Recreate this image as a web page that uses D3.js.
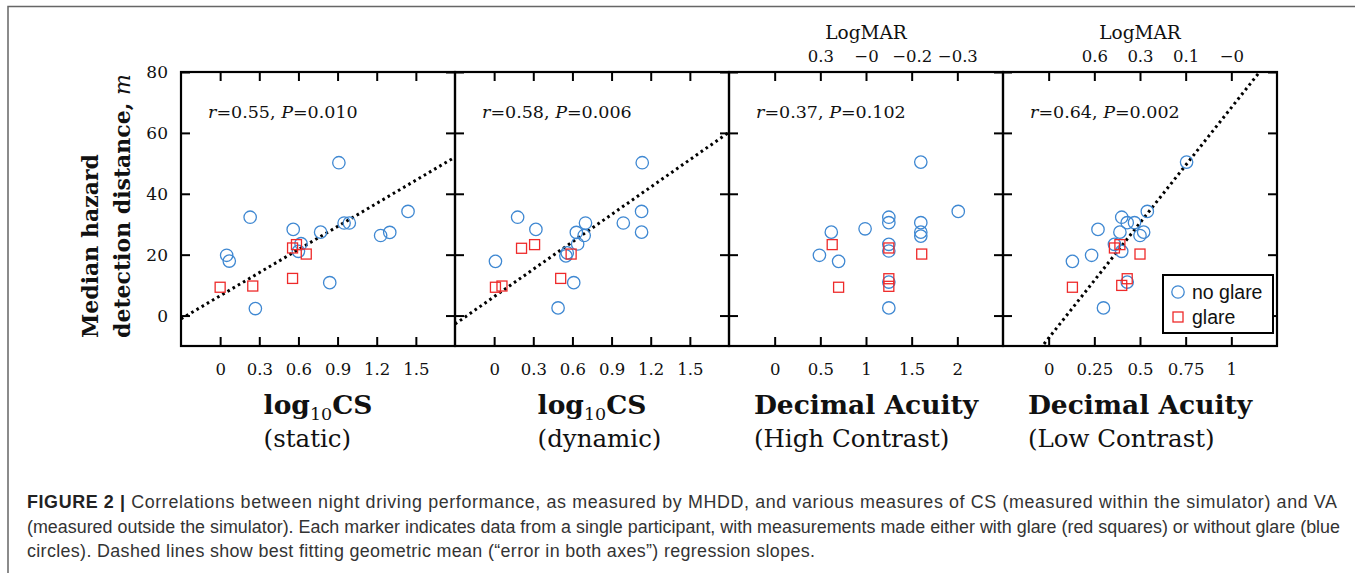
<!DOCTYPE html>
<html>
<head>
<meta charset="utf-8">
<script src="https://cdn.jsdelivr.net/npm/d3@7"></script>
<style>
  body { margin: 0; background: #fff; }
  svg text { font-family: "DejaVu Serif", serif; fill: #111; }
  svg text.cap { font-family: "Liberation Sans", Arial, sans-serif; fill: #333; }
  svg text.leg { font-family: "Liberation Sans", Arial, sans-serif; fill: #111; }
</style>
</head>
<body>
<svg width="1355" height="573"></svg>
<script>
// ---- data: [x, median hazard detection distance (m)] ----
const staticNoGlare = [[0.91, 50.2], [0.23, 32.3], [0.56, 28.3], [0.77, 27.4], [0.95, 30.4], [0.99, 30.4],
  [1.44, 34.2], [1.23, 26.3], [1.30, 27.3], [0.05, 19.8], [0.07, 17.9], [0.62, 23.6], [0.60, 21.1],
  [0.84, 10.8], [0.27, 2.3]];
const staticGlare = [[0.0, 9.3], [0.25, 9.7], [0.555, 22.2], [0.585, 23.3], [0.66, 20.2], [0.555, 12.2]];

const dynamicNoGlare = [[1.135, 50.2], [0.18, 32.3], [0.32, 28.3], [0.70, 30.4], [0.63, 27.3], [0.69, 26.3],
  [0.99, 30.4], [1.13, 34.2], [1.13, 27.4], [0.64, 23.5], [0.56, 20.6], [0.55, 19.6], [0.01, 17.8],
  [0.61, 10.8], [0.49, 2.5]];
const dynamicGlare = [[0.21, 22.1], [0.31, 23.3], [0.59, 20.2], [0.51, 12.2], [0.01, 9.3], [0.06, 9.7]];

const highNoGlare = [[1.6, 50.4], [2.01, 34.2], [1.25, 32.3], [1.25, 30.5], [0.99, 28.5], [0.62, 27.4],
  [1.6, 30.5], [1.6, 27.4], [1.6, 26.1], [0.49, 19.8], [0.70, 17.8], [1.25, 23.4], [1.25, 21.2],
  [1.25, 11.0], [1.25, 2.5]];
const highGlare = [[0.63, 23.3], [1.25, 22.2], [1.61, 20.2], [0.70, 9.3], [1.25, 12.1], [1.25, 9.6]];

const lowNoGlare = [[0.755, 50.4], [0.54, 34.2], [0.40, 32.3], [0.43, 30.5], [0.47, 30.5], [0.27, 28.3],
  [0.39, 27.4], [0.52, 27.4], [0.50, 26.3], [0.235, 19.8], [0.13, 17.8], [0.36, 23.4], [0.40, 21.1],
  [0.43, 11.0], [0.30, 2.5]];
const lowGlare = [[0.36, 22.2], [0.39, 23.3], [0.50, 20.2], [0.13, 9.3], [0.40, 9.9], [0.43, 12.1]];

// regression fits [intercept, slope]; null = no line drawn
const fits = [[6.5, 25.3], [6.2, 30.0], null, [-7.4, 75.7]];
const rValues = ["0.55", "0.58", "0.37", "0.64"];
const pValues = ["0.010", "0.006", "0.102", "0.002"];

// axes
const yTicks = [0, 20, 40, 60, 80];
const csTicks = [0, 0.3, 0.6, 0.9, 1.2, 1.5];
const highTicks = [0, 0.5, 1, 1.5, 2];
const lowTicks = [0, 0.25, 0.5, 0.75, 1];
const highLogMAR = ["", "0.3", "\u22120", "\u22120.2", "\u22120.3"];
const lowLogMAR = ["", "0.6", "0.3", "0.1", "\u22120"];
const titles = ["log10CS", "log10CS", "Decimal Acuity", "Decimal Acuity"];
const subtitles = ["(static)", "(dynamic)", "(High Contrast)", "(Low Contrast)"];

const captionLines = [
  "Correlations between night driving performance, as measured by MHDD, and various measures of CS (measured within the simulator) and VA",
  "(measured outside the simulator). Each marker indicates data from a single participant, with measurements made either with glare (red squares) or without glare (blue",
  "circles). Dashed lines show best fitting geometric mean (\u201cerror in both axes\u201d) regression slopes."
];

// ---- layout ----
const svg = d3.select("svg");
const margin = { left: 181, top: 72 };
const pw = 274, ph = 274;
const blue = "#3f88d2", red = "#ee2a2a";

svg.append("rect").attr("width", 1355).attr("height", 573).attr("fill", "#fff");
svg.append("path").attr("d", "M8,573V6.5H1355").attr("fill", "none")
  .attr("stroke", "#666").attr("stroke-width", 1.5);

const y = d3.scaleLinear().domain([-10, 80]).range([ph, 0]);

const panels = [
  { noGlare: staticNoGlare, glare: staticGlare, domain: [-0.3, 1.8], ticks: csTicks, top: null, topAt: 0 },
  { noGlare: dynamicNoGlare, glare: dynamicGlare, domain: [-0.3, 1.8], ticks: csTicks, top: null, topAt: 0 },
  { noGlare: highNoGlare, glare: highGlare, domain: [-0.5, 2.5], ticks: highTicks, top: highLogMAR, topAt: 1 },
  { noGlare: lowNoGlare, glare: lowGlare, domain: [-0.25, 1.25], ticks: lowTicks, top: lowLogMAR, topAt: 0.5 }
];

const styleAxis = (sel, size) => {
  sel.select(".domain").remove();
  sel.selectAll(".tick line").attr("stroke", "#000").attr("stroke-width", 2);
  sel.selectAll(".tick text").attr("font-family", "DejaVu Serif").attr("font-size", size).attr("fill", "#111");
};

panels.forEach((p, i) => {
  const g = svg.append("g").attr("transform", `translate(${margin.left + i * pw}, ${margin.top})`);
  const x = d3.scaleLinear().domain(p.domain).range([0, pw]);

  g.append("clipPath").attr("id", "clip" + i)
    .append("rect").attr("width", pw).attr("height", ph);

  // ticks on all four sides, pointing inward
  g.append("g").attr("transform", `translate(0, ${ph})`)
    .call(d3.axisBottom(x).tickValues(p.ticks).tickFormat(d3.format("")).tickSizeInner(-9).tickSizeOuter(0).tickPadding(17))
    .call(s => styleAxis(s, 16.5));
  g.append("g")
    .call(d3.axisTop(x).tickValues(p.ticks).tickFormat((d, k) => p.top ? p.top[k] : "").tickSizeInner(-9).tickSizeOuter(0).tickPadding(10))
    .call(s => styleAxis(s, 16.5));
  g.append("g")
    .call(d3.axisLeft(y).tickValues(yTicks).tickFormat(d => i === 0 ? d : "").tickSizeInner(-9).tickSizeOuter(0).tickPadding(13))
    .call(s => styleAxis(s, 17));
  g.append("g").attr("transform", `translate(${pw}, 0)`)
    .call(d3.axisRight(y).tickValues(yTicks).tickFormat("").tickSizeInner(-9).tickSizeOuter(0))
    .call(s => styleAxis(s, 16));

  if (p.top) {
    g.append("text").attr("x", x(p.topAt)).attr("y", -33)
      .attr("text-anchor", "middle").attr("font-size", 18.5).text("LogMAR");
  }

  // regression line
  if (fits[i]) {
    const [b, m] = fits[i];
    g.append("line").attr("clip-path", `url(#clip${i})`)
      .attr("x1", x(p.domain[0])).attr("y1", y(b + m * p.domain[0]))
      .attr("x2", x(p.domain[1])).attr("y2", y(b + m * p.domain[1]))
      .attr("stroke", "#000").attr("stroke-width", 3).attr("stroke-dasharray", "2.6,3.4");
  }

  g.selectAll("circle.ng").data(p.noGlare).enter().append("circle")
    .attr("class", "ng")
    .attr("cx", d => x(d[0])).attr("cy", d => y(d[1])).attr("r", 6.2)
    .attr("fill", "none").attr("stroke", blue).attr("stroke-width", 1.3);

  const s = 10;
  g.selectAll("rect.gl").data(p.glare).enter().append("rect")
    .attr("class", "gl")
    .attr("x", d => x(d[0]) - s / 2).attr("y", d => y(d[1]) - s / 2)
    .attr("width", s).attr("height", s)
    .attr("fill", "none").attr("stroke", red).attr("stroke-width", 1.3);

  // frame
  g.append("rect").attr("width", pw).attr("height", ph)
    .attr("fill", "none").attr("stroke", "#000").attr("stroke-width", 2.2);

  // r / P annotation
  const ann = g.append("text").attr("x", 27).attr("y", 46).attr("font-size", 17.5);
  ann.append("tspan").attr("font-style", "italic").text("r");
  ann.append("tspan").text("=" + rValues[i] + ", ");
  ann.append("tspan").attr("font-style", "italic").text("P");
  ann.append("tspan").text("=" + pValues[i]);

  // x title (two left-aligned lines, block centred under the panel)
  const t1 = g.append("text").attr("y", 342).attr("font-size", 26.5).attr("font-weight", "bold");
  if (titles[i] === "log10CS") {
    t1.append("tspan").text("log");
    t1.append("tspan").attr("font-size", 17.5).attr("font-weight", "normal").attr("dy", 6).text("10");
    t1.append("tspan").attr("dy", -6).text("CS");
  } else {
    t1.text(titles[i]);
  }
  const w1 = t1.node().getComputedTextLength();
  const x0 = pw / 2 - w1 / 2;
  t1.attr("x", x0);
  g.append("text").attr("x", x0).attr("y", 375).attr("font-size", 24.5).text(subtitles[i]);

  // legend in last panel
  if (i === 3) {
    const lg = g.append("g").attr("transform", `translate(${pw - 114}, ${ph - 71})`);
    lg.append("rect").attr("width", 110).attr("height", 58)
      .attr("fill", "#fff").attr("stroke", "#000").attr("stroke-width", 2);
    lg.append("circle").attr("cx", 15).attr("cy", 17).attr("r", 6.2)
      .attr("fill", "none").attr("stroke", blue).attr("stroke-width", 1.3);
    lg.append("rect").attr("x", 10).attr("y", 37).attr("width", s).attr("height", s)
      .attr("fill", "none").attr("stroke", red).attr("stroke-width", 1.3);
    lg.append("text").attr("class", "leg").attr("x", 29).attr("y", 24).attr("font-size", 19.5).text("no glare");
    lg.append("text").attr("class", "leg").attr("x", 29).attr("y", 49).attr("font-size", 19.5).text("glare");
  }
});

// y axis title
const yl = svg.append("g").attr("transform", "translate(0, 338) rotate(-90)");
yl.append("text").attr("x", 0).attr("y", 98).attr("font-size", 22).attr("font-weight", "bold").text("Median hazard");
const yl2 = yl.append("text").attr("x", 0).attr("y", 130).attr("font-size", 22).attr("font-weight", "bold");
yl2.append("tspan").text("detection distance, ");
yl2.append("tspan").attr("font-style", "italic").attr("font-weight", "normal").text("m");

// caption: font size taken from the widest plain line, each line set to its width in the figure
const capY = [508, 533, 557];
const capWidths = [1310, 1313, 788];
const capText = captionLines.map((line, k) => {
  const t = svg.append("text").attr("class", "cap").attr("x", 27).attr("y", capY[k]).attr("font-size", 16);
  if (k === 0) t.append("tspan").attr("font-weight", "bold").attr("fill", "#222").text("FIGURE 2 | ");
  t.append("tspan").text(line);
  return t;
});
const capSize = 16 * 1313 / capText[1].node().getComputedTextLength();
capText.forEach((t, k) => {
  t.attr("font-size", capSize);
  t.attr("textLength", capWidths[k]).attr("lengthAdjust", "spacing");
});
</script>
</body>
</html>
